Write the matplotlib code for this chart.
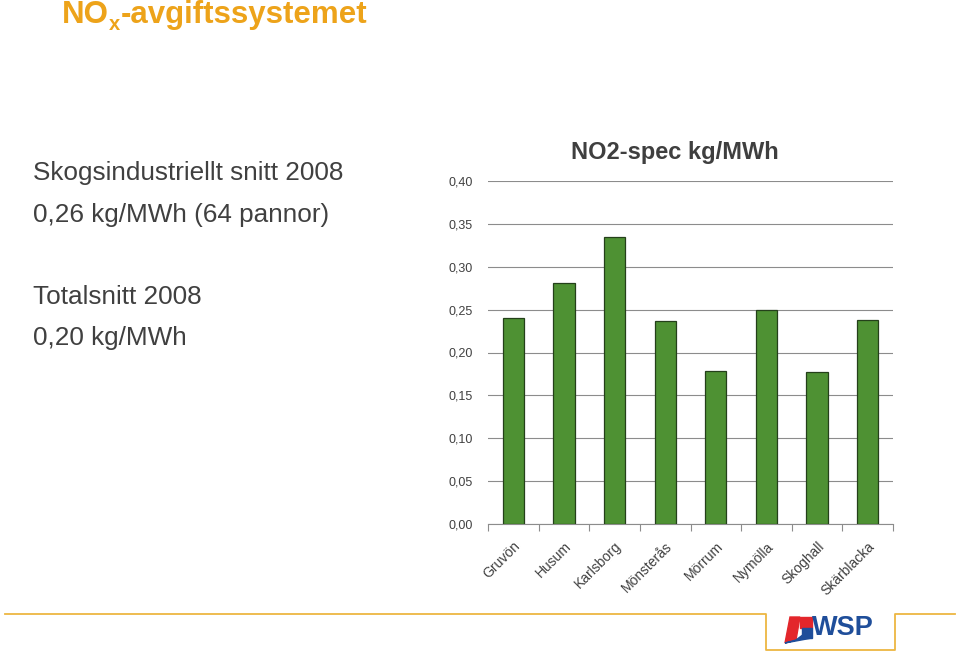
import matplotlib
matplotlib.use('Agg')
import matplotlib.pyplot as plt
from matplotlib.lines import Line2D
from matplotlib.patches import Polygon

plt.rcParams['font.family'] = ['Liberation Sans', 'DejaVu Sans']

# Data
plants = ['Gruvön', 'Husum', 'Karlsborg', 'Mönsterås', 'Mörrum',
          'Nymölla', 'Skoghall', 'Skärblacka']
no2_spec = [0.240, 0.281, 0.335, 0.237, 0.178, 0.250, 0.177, 0.238]
yticks = [0.00, 0.05, 0.10, 0.15, 0.20, 0.25, 0.30, 0.35, 0.40]

W, H = 959, 655
fig = plt.figure(figsize=(W / 100, H / 100), dpi=100, facecolor='white')

# Main title with subscript x
orange = '#EDA31A'
renderer = fig.canvas.get_renderer()
t1 = fig.text(62 / W, 1 - 15 / H, 'NO', color=orange, fontsize=22.5,
              fontweight='bold', va='center', ha='left')
bb = t1.get_window_extent(renderer)
t2 = fig.text(bb.x1 / W, 1 - 24 / H, 'x', color=orange, fontsize=14.5,
              fontweight='bold', va='center', ha='left')
bb2 = t2.get_window_extent(renderer)
fig.text(bb2.x1 / W, 1 - 15 / H, '-avgiftssystemet', color=orange,
         fontsize=22.5, fontweight='bold', va='center', ha='left')

# Left text block
txt_color = '#404040'
for y, s in [(173, 'Skogsindustriellt snitt 2008'),
             (215, '0,26 kg/MWh (64 pannor)'),
             (297, 'Totalsnitt 2008'),
             (338, '0,20 kg/MWh')]:
    fig.text(33 / W, 1 - y / H, s, color=txt_color, fontsize=18.8,
             va='center', ha='left')

# Chart
ax = fig.add_axes([488 / W, 1 - 524 / H, (893 - 488) / W, (524 - 181) / H])
x = range(len(plants))
ax.bar(x, no2_spec, width=0.42, color='#4E9133', edgecolor='#24401A',
       linewidth=0.9, zorder=3)
ax.set_xlim(-0.5, len(plants) - 0.5)
ax.set_ylim(0, 0.40)
ax.set_yticks(yticks)
ax.set_yticklabels([f'{v:.2f}'.replace('.', ',') for v in yticks],
                   fontsize=9, color=txt_color)
ax.yaxis.grid(True, color='#8c8c8c', linewidth=0.8, zorder=0)
ax.tick_params(axis='y', length=0, pad=11)
for sp in ['left', 'right', 'top']:
    ax.spines[sp].set_visible(False)
ax.spines['bottom'].set_color('#8c8c8c')

ax.set_xticks([i - 0.5 for i in range(len(plants) + 1)], minor=False)
ax.set_xticklabels([])
ax.tick_params(axis='x', which='major', length=5, color='#8c8c8c',
               direction='out')
ax.set_xticks(list(x), minor=True)
ax.set_xticklabels(plants, minor=True, rotation=45, ha='right',
                   rotation_mode='anchor', fontsize=10, color=txt_color)
ax.tick_params(axis='x', which='minor', length=0, pad=11)

fig.text(675 / W, 1 - 152 / H, 'NO2-spec kg/MWh', color='#3F3F3F',
         fontsize=17, fontweight='bold', ha='center', va='center')

# Footer line with box around the logo
line_c = '#EDB642'
fx = [5, 766, 766, 895, 895, 955]
fy = [614, 614, 650, 650, 614, 614]
fig.add_artist(Line2D([v / W for v in fx], [1 - v / H for v in fy],
                      color=line_c, linewidth=1.3,
                      transform=fig.transFigure))

# WSP logo
red = '#E3262B'
blue = '#1F4E9A'
def poly(pts, c):
    fig.add_artist(Polygon([(px / W, 1 - py / H) for px, py in pts],
                           closed=True, color=c, transform=fig.transFigure))
poly([(790, 617), (800, 617), (796, 640), (785, 643)], red)
poly([(796, 640), (812, 628), (812, 638), (785, 643)], blue)
poly([(800, 628), (812, 628), (812, 617), (800, 617)], red)
poly([(802, 628), (812, 628), (812, 638), (802, 638)], blue)
fig.text(812 / W, 1 - 628 / H, 'WSP', color=blue, fontsize=19.5,
         fontweight='bold', ha='left', va='center')

fig.savefig('out.png', dpi=100, facecolor='white')
